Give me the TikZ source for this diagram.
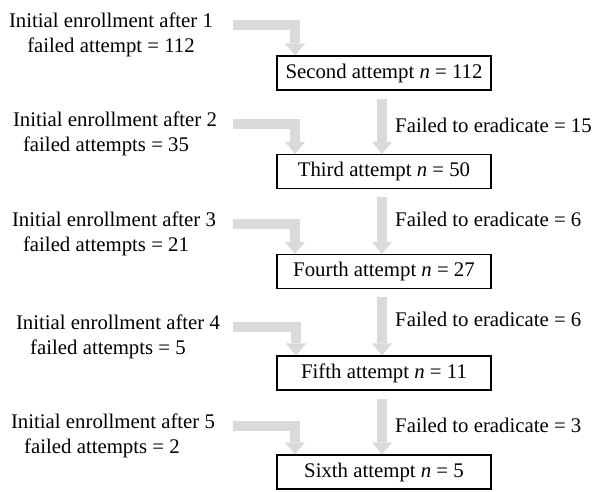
\documentclass[tikz,border=0pt]{standalone}
\usepackage{fontspec}
\setmainfont{Liberation Serif}
\usetikzlibrary{arrows.meta}
\definecolor{arrowgray}{RGB}{218,218,218}
\pgfdeclarelayer{bg}
\pgfsetlayers{bg,main}
\newcommand\padr[1]{\rule{#1}{0pt}}
\begin{document}
\begin{tikzpicture}[x=1pt,y=-1pt,
  every node/.style={font=\fontsize{20.8}{25}\selectfont},
  lbl/.style={align=center, anchor=base, inner sep=0pt},
  fail/.style={anchor=base west, inner sep=0pt},
  box/.style={draw, line width=1.1pt, minimum width=214pt, minimum height=34pt, inner sep=0pt},
  blockarrow/.style={draw=arrowgray, line width=10pt, line join=miter,
    -{Triangle[width=20pt,length=12pt,line width=0pt]}}
]
\useasboundingbox (0,0) rectangle (596,491);

% attempt boxes
\node[box] (b2) at (384,73)    {Second attempt \textit{n} = 112};
\node[box] (b3) at (384,171.5) {Third attempt \textit{n} = 50};
\node[box] (b4) at (384,271.5) {Fourth attempt \textit{n} = 27};
\node[box] (b5) at (384,373)   {Fifth attempt \textit{n} = 11};
\node[box] (b6) at (384,472)   {Sixth attempt \textit{n} = 5};

% left labels (anchor = baseline of the second line)
\node[lbl] (l1) at (111,52)  {Initial enrollment after 1\\failed attempt = 112};
\node[lbl] (l2) at (115,151) {Initial enrollment after 2\\failed attempts = 35\padr{18pt}};
\node[lbl] (l3) at (114,251) {Initial enrollment after 3\\failed attempts = 21\padr{16pt}};
\node[lbl] (l4) at (118,354) {Initial enrollment after 4\\failed attempts = 5\padr{20pt}};
\node[lbl] (l5) at (113,453) {Initial enrollment after 5\\failed attempts = 2\padr{22pt}};

% failed labels
\node[fail] (f1) at (395,132) {Failed to eradicate = 15};
\node[fail] (f2) at (395,226) {Failed to eradicate = 6};
\node[fail] (f3) at (395,326) {Failed to eradicate = 6};
\node[fail] (f4) at (395,432) {Failed to eradicate = 3};

\begin{pgfonlayer}{bg}
% elbow arrows
\coordinate (s1) at (233,25);  \coordinate (k1) at (295,25);
\coordinate (s2) at (233,124); \coordinate (k2) at (295,124);
\coordinate (s3) at (233,224); \coordinate (k3) at (295,224);
\coordinate (s4) at (233,327); \coordinate (k4) at (296,327);
\coordinate (s5) at (233,426); \coordinate (k5) at (295,426);
\draw[blockarrow] (s1) -| (b2.north -| k1);
\draw[blockarrow] (s2) -| (b3.north -| k2);
\draw[blockarrow] (s3) -| (b4.north -| k3);
\draw[blockarrow] (s4) -| (b5.north -| k4);
\draw[blockarrow] (s5) -| (b6.north -| k5);
% vertical arrows
\draw[blockarrow] ([xshift=-2pt,yshift=-8pt]b2.south) -- ([xshift=-2pt]b3.north);
\draw[blockarrow] ([xshift=-2pt,yshift=-8pt]b3.south) -- ([xshift=-2pt]b4.north);
\draw[blockarrow] ([xshift=-2pt,yshift=-8pt]b4.south) -- ([xshift=-2pt]b5.north);
\draw[blockarrow] ([xshift=-2pt,yshift=-8pt]b5.south) -- ([xshift=-2pt]b6.north);
\end{pgfonlayer}
\end{tikzpicture}
\end{document}
